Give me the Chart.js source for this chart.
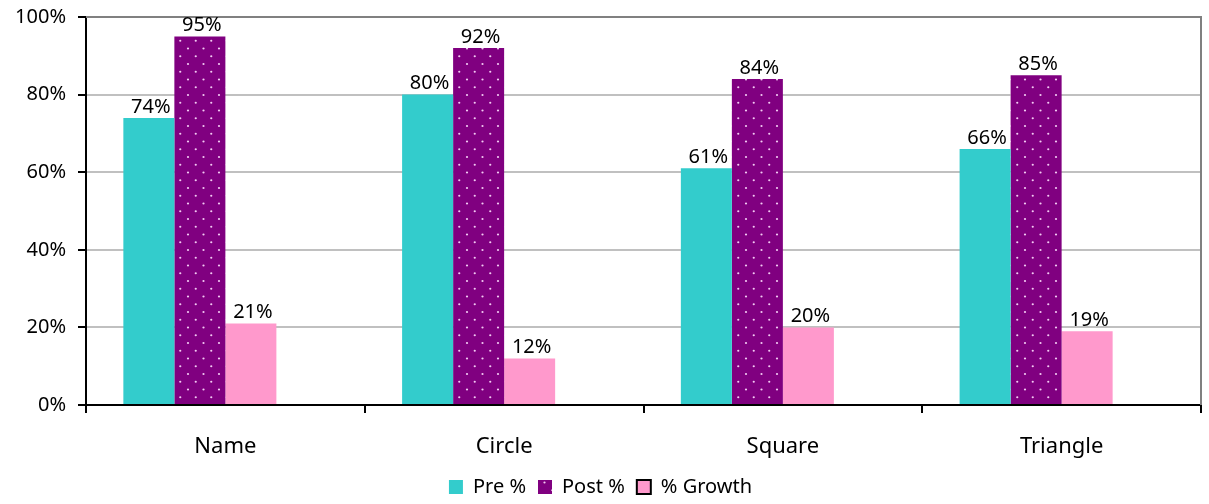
<!DOCTYPE html>
<html>
<head>
<meta charset="utf-8">
<script src="https://cdn.jsdelivr.net/npm/chart.js@4"></script>
<style>
  html, body { margin: 0; padding: 0; background: #fff; }
  #wrap { width: 1209px; height: 504px; position: relative; }
</style>
</head>
<body>
<div id="wrap"><canvas id="myChart"></canvas></div>
<script>
const categories = ["Name", "Circle", "Square", "Triangle"];
const preValues = [74, 80, 61, 66];
const postValues = [95, 92, 84, 85];
const growthValues = [21, 12, 20, 19];
const emptyValues = [null, null, null, null];
const yTicks = [0, 20, 40, 60, 80, 100];

const FONT = "'Comic Sans MS', 'Noto Sans', sans-serif";

const colors = {
  teal: "#33CCCC",
  purple: "#800080",
  pink: "#FF99CC",
};

// dotted purple fill, like the office "small confetti" pattern
function dotPattern() {
  const tile = document.createElement("canvas");
  tile.width = 31;
  tile.height = 31;
  const c = tile.getContext("2d");
  c.fillStyle = colors.purple;
  c.fillRect(0, 0, 31, 31);
  c.fillStyle = "rgba(255,225,255,0.9)";
  const pts = [
    [2, 2], [17.5, 2], [9.75, 9.75], [25.25, 9.75],
    [2, 17.5], [17.5, 17.5], [9.75, 25.25], [25.25, 25.25],
  ];
  pts.forEach(([x, y]) => {
    c.beginPath();
    c.arc(x, y, 1.1, 0, Math.PI * 2);
    c.fill();
  });
  return c.createPattern(tile, "repeat");
}

const ctx = document.getElementById("myChart").getContext("2d");
const purpleFill = dotPattern();

// value labels over each bar
const barLabels = {
  id: "barLabels",
  afterDatasetsDraw(chart) {
    const c = chart.ctx;
    c.save();
    c.font = "20px " + FONT;
    c.fillStyle = "#000";
    c.textAlign = "center";
    c.textBaseline = "bottom";
    chart.data.datasets.forEach((ds, i) => {
      chart.getDatasetMeta(i).data.forEach((bar, j) => {
        if (ds.data[j] == null) return;
        c.fillText(ds.data[j] + "%", bar.x + 2, bar.y - 1);
      });
    });
    c.restore();
  },
};

// grey frame on top and right of the plot
const frame = {
  id: "frame",
  beforeDatasetsDraw(chart) {
    const a = chart.chartArea;
    const c = chart.ctx;
    c.save();
    c.strokeStyle = "#808080";
    c.lineWidth = 2;
    c.beginPath();
    c.moveTo(a.left, a.top);
    c.lineTo(a.right, a.top);
    c.lineTo(a.right, a.bottom);
    c.stroke();
    c.restore();
  },
};

const data = {
  labels: categories,
  datasets: [
    { label: "Pre %", data: preValues, backgroundColor: colors.teal },
    { label: "Post %", data: postValues, backgroundColor: purpleFill },
    { label: "% Growth", data: growthValues, backgroundColor: colors.pink },
    { label: "", data: emptyValues, backgroundColor: "transparent" },
  ],
};

const config = {
  type: "bar",
  data: data,
  plugins: [frame, barLabels],
  options: {
    responsive: true,
    maintainAspectRatio: false,
    animation: false,
    layout: { padding: { top: 17, right: 8, left: 0, bottom: -3 } },
    datasets: {
      bar: { categoryPercentage: 0.732, barPercentage: 1, borderWidth: 0 },
    },
    plugins: {
      tooltip: { enabled: false },
      legend: {
        position: "bottom",
        labels: {
          font: { family: FONT, size: 20 },
          color: "#000",
          boxWidth: 14,
          boxHeight: 14,
          padding: 12,
          generateLabels(chart) {
            return chart.data.datasets.slice(0, 3).map((ds, i) => ({
              text: ds.label,
              fillStyle: ds.backgroundColor,
              strokeStyle: i === 2 ? "#000" : ds.backgroundColor,
              lineWidth: i === 2 ? 2 : 0,
              datasetIndex: i,
              hidden: false,
              fontColor: "#000",
            }));
          },
        },
      },
    },
    scales: {
      x: {
        grid: {
          offset: true,
          drawOnChartArea: false,
          color: "#000",
          tickLength: 8,
          lineWidth: 2,
        },
        border: { color: "#000", width: 2 },
        ticks: {
          color: "#000",
          padding: 21,
          font: { family: FONT, size: 22 },
        },
        afterFit(scale) { scale.height = 60; },
      },
      y: {
        min: 0,
        max: 100,
        afterBuildTicks(scale) {
          scale.ticks = yTicks.map((v) => ({ value: v }));
        },
        grid: {
          color: (c) => (c.tick && c.tick.value === 100 ? "#808080" : "#C0C0C0"),
          lineWidth: 2,
          tickLength: 8,
          tickColor: "#000",
        },
        border: { color: "#000", width: 2 },
        ticks: {
          color: "#000",
          padding: 12,
          font: { family: FONT, size: 20 },
          callback: (v) => v + "%",
        },
        afterFit(scale) {
          scale.width = 86;
          scale.paddingTop = 0;
          scale.paddingBottom = 0;
        },
      },
    },
  },
};

const myChart = new Chart(ctx, config);
</script>
</body>
</html>
